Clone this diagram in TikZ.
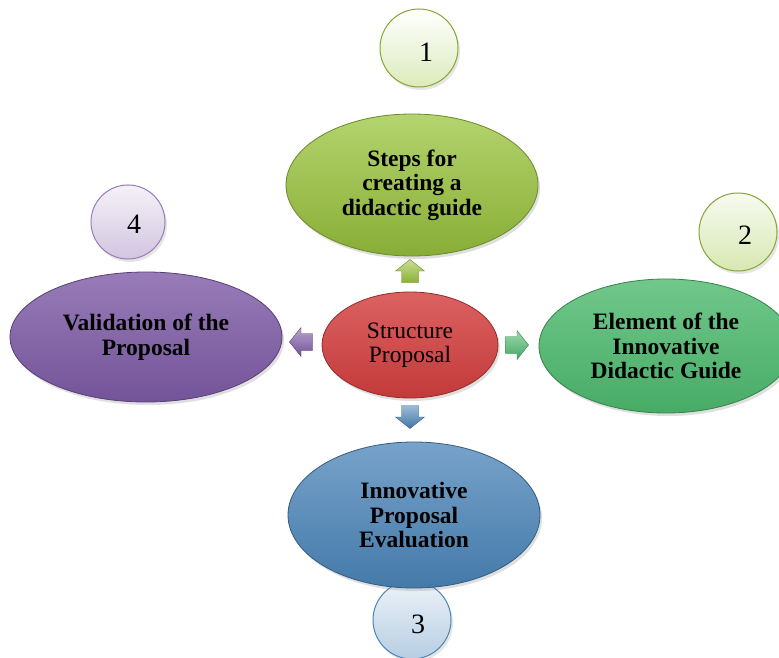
\documentclass[tikz,border=0pt]{standalone}
\usepackage{fontspec}
\setmainfont{Liberation Serif}
\usetikzlibrary{shapes.geometric,shadows}
\begin{document}
\begin{tikzpicture}[x=1pt,y=-1pt,
  bigell/.style={ellipse, draw=#1!70!black, line width=0.8pt, inner sep=0pt, align=center,
     font=\fontsize{23.5}{24.5}\selectfont\bfseries,
     drop shadow={shadow xshift=2pt,shadow yshift=-3pt,opacity=0.25}},
  numcirc/.style={circle, minimum size=78pt, line width=1pt, inner sep=0pt,
     drop shadow={shadow xshift=2pt,shadow yshift=-3pt,opacity=0.2}},
  numtext/.style={font=\fontsize{28}{30}\selectfont},
  blockarr/.style={draw=#1!70!black, line width=0.4pt, top color=#1!55!white, bottom color=#1!90!black}
]
\definecolor{gtop}{HTML}{9BC53D}
\definecolor{ctr}{HTML}{D43F3F}
\definecolor{grn}{HTML}{4DBA6E}
\definecolor{blu}{HTML}{4A84B8}
\definecolor{pur}{HTML}{7E5BA6}
\useasboundingbox (0,0) rectangle (779,658);
\fill[white] (0,0) rectangle (779,658);

% circles
\node[numcirc, draw=gtop!85!black, top color=white, bottom color=gtop!35!white] (c1) at (419,48) {};
\node[numtext] at ([xshift=7pt,yshift=-4pt]c1.center) (t1) {1};
\node[numcirc, draw=gtop!85!black, top color=gtop!8!white, bottom color=gtop!40!white] (c2) at (738,232) {};
\node[numtext] at ([xshift=7pt,yshift=-3pt]c2.center) (t2) {2};
\node[numcirc, draw=blu, top color=blu!10!white, bottom color=blu!40!white] (c3) at (412,620) {};
\node[numtext] at ([xshift=6pt,yshift=-4pt]c3.center) (t3) {3};
\node[numcirc, minimum size=74pt, draw=pur!80!white, top color=pur!8!white, bottom color=pur!35!white] (c4) at (128,222) {};
\node[numtext] at ([xshift=6pt,yshift=-2pt]c4.center) (t4) {4};

% big ellipses
\node[bigell=gtop, minimum width=252pt, minimum height=142pt,
      top color=gtop!75!white, bottom color=gtop!88!black] (e1) at (412,185)
      {Steps for\\creating a\\didactic guide};
\node[bigell=grn, minimum width=254pt, minimum height=134pt,
      top color=grn!80!white, bottom color=grn!92!black] (e2) at (666,346)
      {Element of the\\Innovative\\Didactic Guide};
\node[bigell=blu, minimum width=252pt, minimum height=146pt,
      top color=blu!75!white, bottom color=blu!92!black] (e3) at (414,515)
      {Innovative\\Proposal\\Evaluation};
\node[bigell=pur, minimum width=272pt, minimum height=130pt,
      top color=pur!80!white, bottom color=pur!92!black] (e4) at (146,337)
      {Validation of the\\Proposal};

% center
\node[ellipse, draw=ctr!70!black, line width=0.8pt, minimum width=176pt, minimum height=106pt,
      top color=ctr!82!white, bottom color=ctr!92!black, align=center, inner sep=0pt,
      font=\fontsize{23.5}{24.5}\selectfont,
      drop shadow={shadow xshift=2pt,shadow yshift=-3pt,opacity=0.25}] (ctr) at (410,345)
      {Structure\\Proposal};

% block arrows (drawn shapes)
\def\arrshape{(-11.5,-8.5) -- (0,-8.5) -- (0,-14.5) -- (11.5,0) -- (0,14.5) -- (0,8.5) -- (-11.5,8.5) -- cycle}
\begin{scope}[shift={(410,271)}, rotate=90]
  \path[blockarr=gtop] \arrshape;
\end{scope}
\begin{scope}[shift={(517,345)}]
  \path[blockarr=grn] \arrshape;
\end{scope}
\begin{scope}[shift={(410,417)}, rotate=-90]
  \path[blockarr=blu] \arrshape;
\end{scope}
\begin{scope}[shift={(301,342)}, rotate=180]
  \path[blockarr=pur] \arrshape;
\end{scope}
\end{tikzpicture}
\end{document}
